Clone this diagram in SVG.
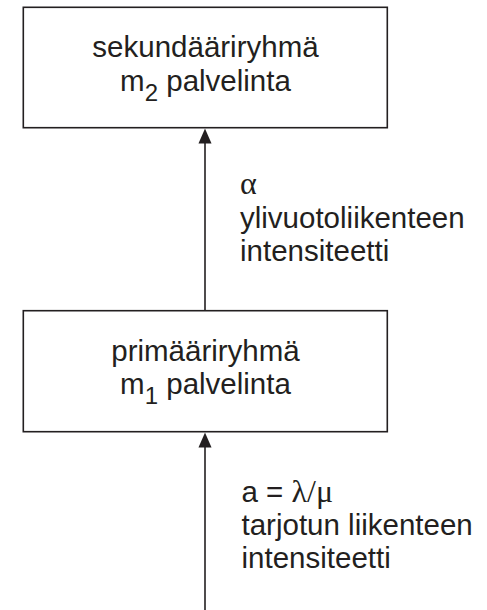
<svg xmlns="http://www.w3.org/2000/svg" width="487" height="610" viewBox="0 0 487 610">
<style>
.box{fill:#fff;stroke:#231f20;stroke-width:1.6}
.t{font-family:"Liberation Sans",Arial,sans-serif;font-size:29.5px;fill:#231f20}
.c{text-anchor:middle}
.g{font-family:"Liberation Serif","Times New Roman",serif;font-size:32px}
.sub{font-size:24px}
.line{stroke:#231f20;stroke-width:1.6;fill:none}
.head{fill:#231f20}
</style>
<rect width="487" height="610" fill="#fff"/>
<g id="connectors">
  <line class="line" x1="205" y1="310.7" x2="205" y2="140"/>
  <polygon class="head" points="205,128.5 211.5,143.5 198.5,143.5"/>
  <line class="line" x1="205" y1="610" x2="205" y2="444"/>
  <polygon class="head" points="205,432.5 211.5,447.5 198.5,447.5"/>
</g>
<g id="secondary">
  <rect class="box" x="23.3" y="7.3" width="364" height="120.4"/>
  <text class="t c" x="205.5" y="57">sekundääriryhmä</text>
  <text class="t c" x="205.5" y="90.5">m<tspan class="sub" dy="10">2</tspan><tspan dy="-10"> palvelinta</tspan></text>
</g>
<g id="primary">
  <rect class="box" x="23.3" y="310.7" width="364" height="121"/>
  <text class="t c" x="205.5" y="361">primääriryhmä</text>
  <text class="t c" x="205.5" y="394">m<tspan class="sub" dy="10">1</tspan><tspan dy="-10"> palvelinta</tspan></text>
</g>
<g id="label-overflow">
  <text class="t" x="240" y="194"><tspan class="g">α</tspan></text>
  <text class="t" x="240" y="228">ylivuotoliikenteen</text>
  <text class="t" x="240" y="260.5">intensiteetti</text>
</g>
<g id="label-offered">
  <text class="t" x="241.5" y="502">a = <tspan class="g">λ/μ</tspan></text>
  <text class="t" x="241.5" y="535">tarjotun liikenteen</text>
  <text class="t" x="241.5" y="568">intensiteetti</text>
</g>
</svg>
